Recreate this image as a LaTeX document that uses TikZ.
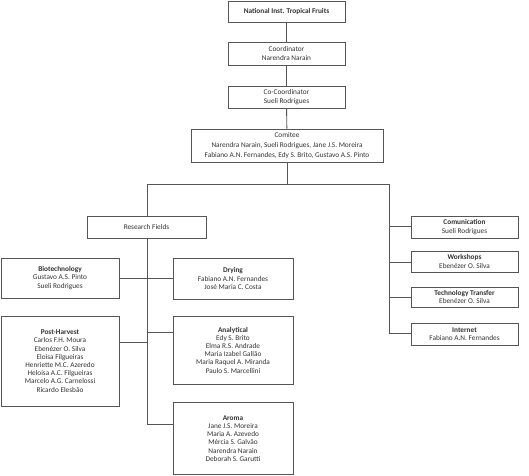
\documentclass[tikz,border=0pt]{standalone}
\usepackage{fontspec}
\setmainfont{Carlito}
\definecolor{framegray}{HTML}{555555}
\definecolor{inkgray}{HTML}{333333}
\begin{document}
\begin{tikzpicture}[x=1pt, y=-1pt,
  unit/.style={draw=framegray, line width=0.9pt, fill=white, align=center,
               font=\fontsize{7.3}{8.2}\selectfont, text=inkgray, inner sep=0pt},
  wide/.style={font=\fontsize{7.3}{9.8}\selectfont},
  link/.style={draw=framegray, line width=0.9pt}
]
  \useasboundingbox (0,0) rectangle (529,475);

  % branch points of the tree
  \coordinate (split)  at (287,184);
  \coordinate (lsplit) at (147,184);
  \coordinate (rsplit) at (389,184);
  \coordinate (lend)   at (147,424);
  \coordinate (rend)   at (389,333);

  \draw[link] (split) -- (287,150);
  \draw[link] (lsplit) -- (rsplit);
  \draw[link] (lsplit) -- (lend);
  \draw[link] (rsplit) -- (rend);

  \draw[link] (119,278) -- (173,278);
  \draw[link] (119,342) -- (147,342);
  \draw[link] (147,332) -- (173,332);
  \draw[link] (lend) -- (173,424);
  \foreach \yy in {226,262,297,333}
    \draw[link] (389,\yy) -- (411,\yy);

  \node[unit, minimum width=117, minimum height=21] (nift) at (286.5,11.5)
    {\textbf{National Inst. Tropical Fruits}};
  \node[unit, wide, minimum width=117, minimum height=23] (coord) at (286.5,53.5)
    {Coordinator\\Narendra Narain};
  \node[unit, wide, minimum width=117, minimum height=22] (cocoord) at (286.5,97)
    {Co-Coordinator\\Sueli Rodrigues};
  \node[unit, wide, minimum width=192, minimum height=33] (comitee) at (287,145.5)
    {Comitee\\Narendra Narain, Sueli Rodrigues, Jane J.S. Moreira\\
     Fabiano A.N. Fernandes, Edy S. Brito, Gustavo A.S. Pinto};

  \draw[link] (nift) -- (coord);
  \draw[link] (coord) -- (cocoord);
  \draw[link] (cocoord) -- (comitee);

  \node[unit, minimum width=119, minimum height=22] (research) at (146.5,227)
    {Research Fields};

  \node[unit, minimum width=118, minimum height=40] (biotech) at (60,278)
    {\textbf{Biotechnology}\\Gustavo A.S. Pinto\\Sueli Rodrigues};
  \node[unit, minimum width=120, minimum height=41] (drying) at (233,278.5)
    {\textbf{Drying}\\Fabiano A.N. Fernandes\\José Maria C. Costa};
  \node[unit, minimum width=118, minimum height=90] (postharv) at (60,361)
    {\textbf{Post-Harvest}\\Carlos F.H. Moura\\Ebenézer O. Silva\\Eloisa Filgueiras\\
     Henriette M.C. Azeredo\\Heloisa A.C. Filgueiras\\Marcelo A.G. Carnelossi\\Ricardo Elesbão};
  \node[unit, minimum width=120, minimum height=68] (analytical) at (233,350)
    {\textbf{Analytical}\\Edy S. Brito\\Elma R.S. Andrade\\Maria Izabel Gallão\\
     Maria Raquel A. Miranda\\Paulo S. Marcellini};
  \node[unit, minimum width=120, minimum height=72] (aroma) at (233,438.5)
    {\textbf{Aroma}\\Jane J.S. Moreira\\Maria A. Azevedo\\Mércia S. Galvão\\
     Narendra Narain\\Deborah S. Garutti};

  \node[unit, minimum width=107, minimum height=22] (comm) at (464.5,227)
    {\textbf{Comunication}\\Sueli Rodrigues};
  \node[unit, minimum width=107, minimum height=21] (workshops) at (464.5,261.5)
    {\textbf{Workshops}\\Ebenézer O. Silva};
  \node[unit, minimum width=107, minimum height=20] (transfer) at (464.5,297)
    {\textbf{Technology Transfer}\\Ebenézer O. Silva};
  \node[unit, minimum width=107, minimum height=22] (internet) at (464.5,334)
    {\textbf{Internet}\\Fabiano A.N. Fernandes};
\end{tikzpicture}
\end{document}
